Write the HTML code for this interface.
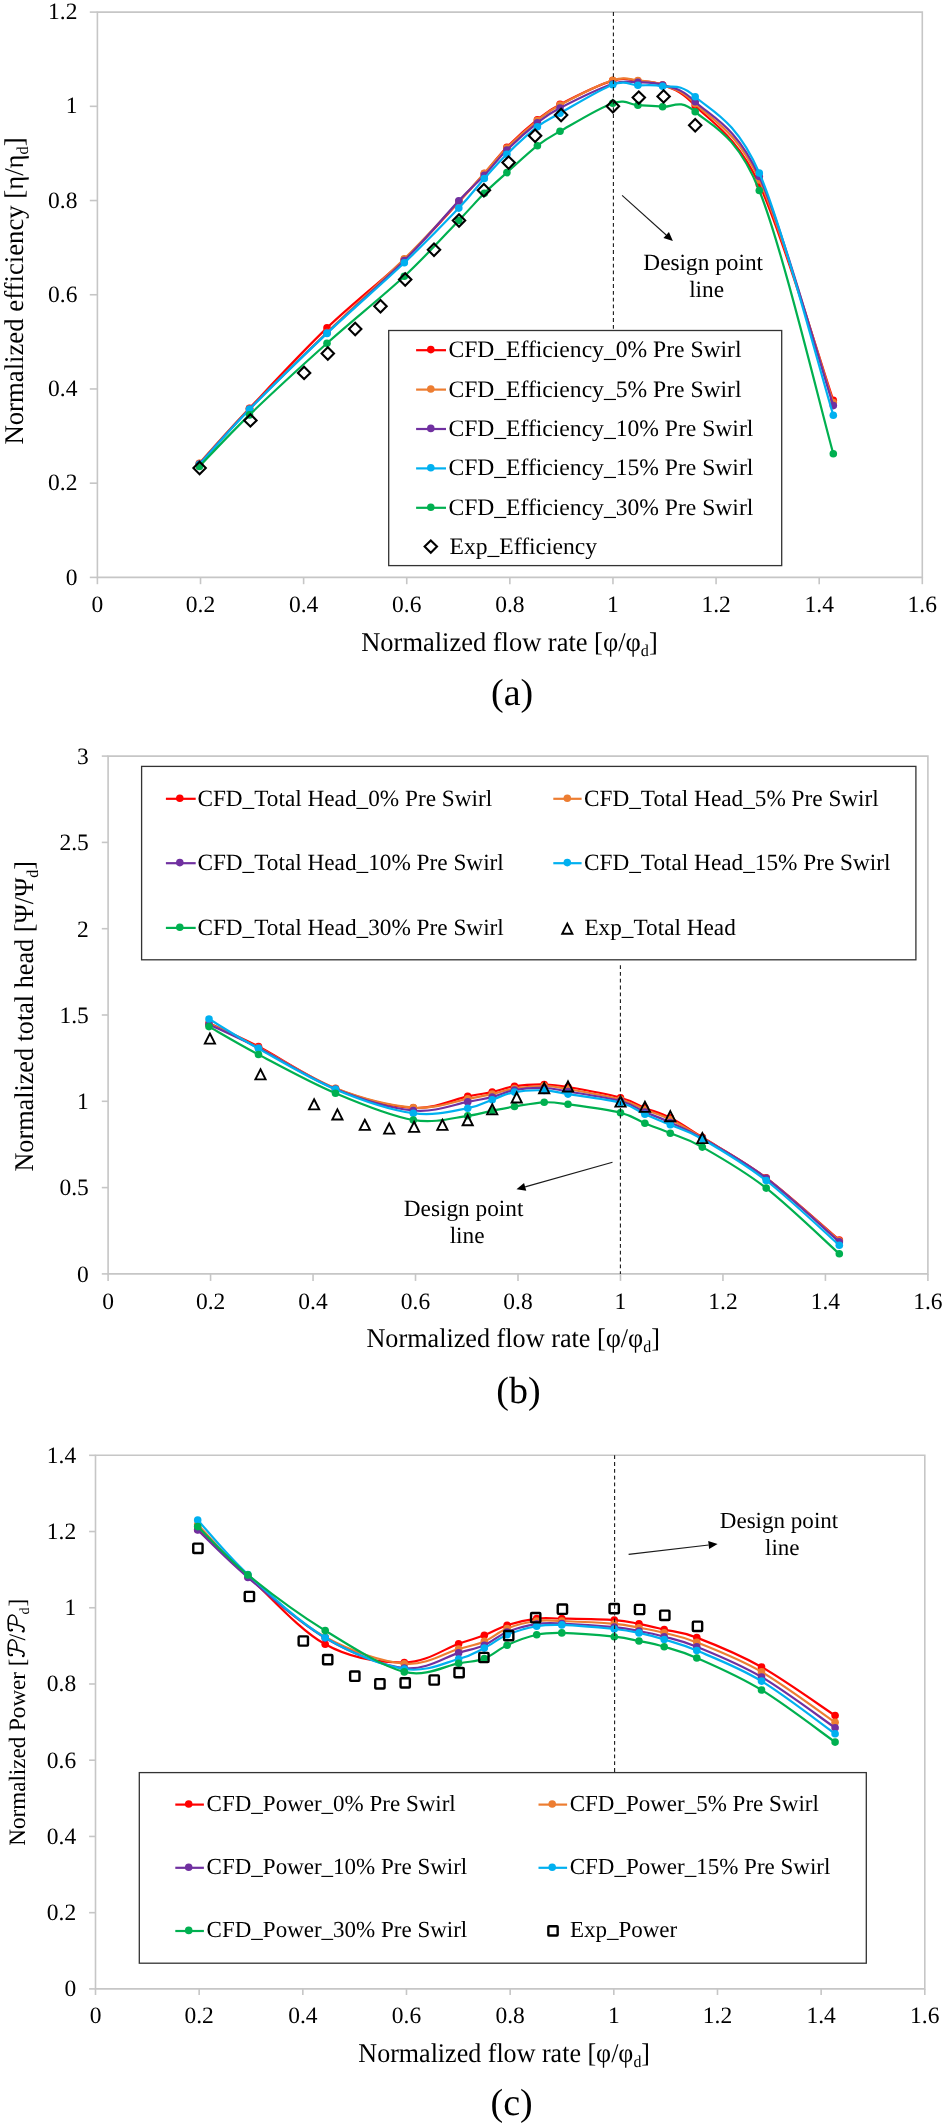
<!DOCTYPE html><html><head><meta charset="utf-8"><style>html,body{margin:0;padding:0;background:#fff;}body{width:945px;height:2127px;overflow:hidden;}svg{display:block;will-change:transform}text{text-rendering:geometricPrecision;font-family:"Liberation Serif", serif;fill:#000}</style></head><body>
<svg width="945" height="2127" viewBox="0 0 945 2127">
<rect width="945" height="2127" fill="#fff"/>
<path d="M97.4,12.1H922.3V577.4H97.4Z" fill="none" stroke="#c6c6c6" stroke-width="1.6"/>
<path d="M89.80,577.40H97.4" stroke="#c6c6c6" stroke-width="1.6"/>
<text x="77.4" y="584.50" font-size="23.5" text-anchor="end">0</text>
<path d="M89.80,483.18H97.4" stroke="#c6c6c6" stroke-width="1.6"/>
<text x="77.4" y="490.28" font-size="23.5" text-anchor="end">0.2</text>
<path d="M89.80,388.97H97.4" stroke="#c6c6c6" stroke-width="1.6"/>
<text x="77.4" y="396.07" font-size="23.5" text-anchor="end">0.4</text>
<path d="M89.80,294.75H97.4" stroke="#c6c6c6" stroke-width="1.6"/>
<text x="77.4" y="301.85" font-size="23.5" text-anchor="end">0.6</text>
<path d="M89.80,200.53H97.4" stroke="#c6c6c6" stroke-width="1.6"/>
<text x="77.4" y="207.63" font-size="23.5" text-anchor="end">0.8</text>
<path d="M89.80,106.32H97.4" stroke="#c6c6c6" stroke-width="1.6"/>
<text x="77.4" y="113.42" font-size="23.5" text-anchor="end">1</text>
<path d="M89.80,12.10H97.4" stroke="#c6c6c6" stroke-width="1.6"/>
<text x="77.4" y="19.20" font-size="23.5" text-anchor="end">1.2</text>
<path d="M97.40,577.4V584.20" stroke="#c6c6c6" stroke-width="1.6"/>
<text x="97.40" y="612.4" font-size="23.5" text-anchor="middle">0</text>
<path d="M200.51,577.4V584.20" stroke="#c6c6c6" stroke-width="1.6"/>
<text x="200.51" y="612.4" font-size="23.5" text-anchor="middle">0.2</text>
<path d="M303.62,577.4V584.20" stroke="#c6c6c6" stroke-width="1.6"/>
<text x="303.62" y="612.4" font-size="23.5" text-anchor="middle">0.4</text>
<path d="M406.74,577.4V584.20" stroke="#c6c6c6" stroke-width="1.6"/>
<text x="406.74" y="612.4" font-size="23.5" text-anchor="middle">0.6</text>
<path d="M509.85,577.4V584.20" stroke="#c6c6c6" stroke-width="1.6"/>
<text x="509.85" y="612.4" font-size="23.5" text-anchor="middle">0.8</text>
<path d="M612.96,577.4V584.20" stroke="#c6c6c6" stroke-width="1.6"/>
<text x="612.96" y="612.4" font-size="23.5" text-anchor="middle">1</text>
<path d="M716.08,577.4V584.20" stroke="#c6c6c6" stroke-width="1.6"/>
<text x="716.08" y="612.4" font-size="23.5" text-anchor="middle">1.2</text>
<path d="M819.19,577.4V584.20" stroke="#c6c6c6" stroke-width="1.6"/>
<text x="819.19" y="612.4" font-size="23.5" text-anchor="middle">1.4</text>
<path d="M922.30,577.4V584.20" stroke="#c6c6c6" stroke-width="1.6"/>
<text x="922.30" y="612.4" font-size="23.5" text-anchor="middle">1.6</text>
<path d="M108.1,756.1H927.9V1273.9H108.1Z" fill="none" stroke="#c6c6c6" stroke-width="1.6"/>
<path d="M101.80,1273.90H108.1" stroke="#c6c6c6" stroke-width="1.6"/>
<text x="88.8" y="1281.70" font-size="23.5" text-anchor="end">0</text>
<path d="M101.80,1187.60H108.1" stroke="#c6c6c6" stroke-width="1.6"/>
<text x="88.8" y="1195.40" font-size="23.5" text-anchor="end">0.5</text>
<path d="M101.80,1101.30H108.1" stroke="#c6c6c6" stroke-width="1.6"/>
<text x="88.8" y="1109.10" font-size="23.5" text-anchor="end">1</text>
<path d="M101.80,1015.00H108.1" stroke="#c6c6c6" stroke-width="1.6"/>
<text x="88.8" y="1022.80" font-size="23.5" text-anchor="end">1.5</text>
<path d="M101.80,928.70H108.1" stroke="#c6c6c6" stroke-width="1.6"/>
<text x="88.8" y="936.50" font-size="23.5" text-anchor="end">2</text>
<path d="M101.80,842.40H108.1" stroke="#c6c6c6" stroke-width="1.6"/>
<text x="88.8" y="850.20" font-size="23.5" text-anchor="end">2.5</text>
<path d="M101.80,756.10H108.1" stroke="#c6c6c6" stroke-width="1.6"/>
<text x="88.8" y="763.90" font-size="23.5" text-anchor="end">3</text>
<path d="M108.10,1273.9V1280.90" stroke="#c6c6c6" stroke-width="1.6"/>
<text x="108.10" y="1309.0" font-size="23.5" text-anchor="middle">0</text>
<path d="M210.57,1273.9V1280.90" stroke="#c6c6c6" stroke-width="1.6"/>
<text x="210.57" y="1309.0" font-size="23.5" text-anchor="middle">0.2</text>
<path d="M313.05,1273.9V1280.90" stroke="#c6c6c6" stroke-width="1.6"/>
<text x="313.05" y="1309.0" font-size="23.5" text-anchor="middle">0.4</text>
<path d="M415.52,1273.9V1280.90" stroke="#c6c6c6" stroke-width="1.6"/>
<text x="415.52" y="1309.0" font-size="23.5" text-anchor="middle">0.6</text>
<path d="M518.00,1273.9V1280.90" stroke="#c6c6c6" stroke-width="1.6"/>
<text x="518.00" y="1309.0" font-size="23.5" text-anchor="middle">0.8</text>
<path d="M620.47,1273.9V1280.90" stroke="#c6c6c6" stroke-width="1.6"/>
<text x="620.47" y="1309.0" font-size="23.5" text-anchor="middle">1</text>
<path d="M722.95,1273.9V1280.90" stroke="#c6c6c6" stroke-width="1.6"/>
<text x="722.95" y="1309.0" font-size="23.5" text-anchor="middle">1.2</text>
<path d="M825.42,1273.9V1280.90" stroke="#c6c6c6" stroke-width="1.6"/>
<text x="825.42" y="1309.0" font-size="23.5" text-anchor="middle">1.4</text>
<path d="M927.90,1273.9V1280.90" stroke="#c6c6c6" stroke-width="1.6"/>
<text x="927.90" y="1309.0" font-size="23.5" text-anchor="middle">1.6</text>
<path d="M95.5,1455.3H924.8V1988.9H95.5Z" fill="none" stroke="#c6c6c6" stroke-width="1.6"/>
<path d="M89.10,1988.90H95.5" stroke="#c6c6c6" stroke-width="1.6"/>
<text x="76.2" y="1996.30" font-size="23.5" text-anchor="end">0</text>
<path d="M89.10,1912.67H95.5" stroke="#c6c6c6" stroke-width="1.6"/>
<text x="76.2" y="1920.07" font-size="23.5" text-anchor="end">0.2</text>
<path d="M89.10,1836.44H95.5" stroke="#c6c6c6" stroke-width="1.6"/>
<text x="76.2" y="1843.84" font-size="23.5" text-anchor="end">0.4</text>
<path d="M89.10,1760.21H95.5" stroke="#c6c6c6" stroke-width="1.6"/>
<text x="76.2" y="1767.61" font-size="23.5" text-anchor="end">0.6</text>
<path d="M89.10,1683.99H95.5" stroke="#c6c6c6" stroke-width="1.6"/>
<text x="76.2" y="1691.39" font-size="23.5" text-anchor="end">0.8</text>
<path d="M89.10,1607.76H95.5" stroke="#c6c6c6" stroke-width="1.6"/>
<text x="76.2" y="1615.16" font-size="23.5" text-anchor="end">1</text>
<path d="M89.10,1531.53H95.5" stroke="#c6c6c6" stroke-width="1.6"/>
<text x="76.2" y="1538.93" font-size="23.5" text-anchor="end">1.2</text>
<path d="M89.10,1455.30H95.5" stroke="#c6c6c6" stroke-width="1.6"/>
<text x="76.2" y="1462.70" font-size="23.5" text-anchor="end">1.4</text>
<path d="M95.50,1988.9V1995.00" stroke="#c6c6c6" stroke-width="1.6"/>
<text x="95.50" y="2022.6" font-size="23.5" text-anchor="middle">0</text>
<path d="M199.16,1988.9V1995.00" stroke="#c6c6c6" stroke-width="1.6"/>
<text x="199.16" y="2022.6" font-size="23.5" text-anchor="middle">0.2</text>
<path d="M302.83,1988.9V1995.00" stroke="#c6c6c6" stroke-width="1.6"/>
<text x="302.83" y="2022.6" font-size="23.5" text-anchor="middle">0.4</text>
<path d="M406.49,1988.9V1995.00" stroke="#c6c6c6" stroke-width="1.6"/>
<text x="406.49" y="2022.6" font-size="23.5" text-anchor="middle">0.6</text>
<path d="M510.15,1988.9V1995.00" stroke="#c6c6c6" stroke-width="1.6"/>
<text x="510.15" y="2022.6" font-size="23.5" text-anchor="middle">0.8</text>
<path d="M613.81,1988.9V1995.00" stroke="#c6c6c6" stroke-width="1.6"/>
<text x="613.81" y="2022.6" font-size="23.5" text-anchor="middle">1</text>
<path d="M717.48,1988.9V1995.00" stroke="#c6c6c6" stroke-width="1.6"/>
<text x="717.48" y="2022.6" font-size="23.5" text-anchor="middle">1.2</text>
<path d="M821.14,1988.9V1995.00" stroke="#c6c6c6" stroke-width="1.6"/>
<text x="821.14" y="2022.6" font-size="23.5" text-anchor="middle">1.4</text>
<path d="M924.80,1988.9V1995.00" stroke="#c6c6c6" stroke-width="1.6"/>
<text x="924.80" y="2022.6" font-size="23.5" text-anchor="middle">1.6</text>
<g transform="translate(361.23,651.20) scale(0.98,1)"><text x="0" y="0" font-size="27">Normalized flow rate [φ/φ<tspan font-size="16.5" dy="4.8">d</tspan><tspan dy="-4.8">]</tspan></text></g>
<g transform="translate(366.44,1347.30) scale(0.97,1)"><text x="0" y="0" font-size="27">Normalized flow rate [φ/φ<tspan font-size="16.5" dy="4.8">d</tspan><tspan dy="-4.8">]</tspan></text></g>
<g transform="translate(358.35,2062.30) scale(0.964,1)"><text x="0" y="0" font-size="27">Normalized flow rate [φ/φ<tspan font-size="16.5" dy="4.8">d</tspan><tspan dy="-4.8">]</tspan></text></g>
<g transform="translate(23.00,444.58) rotate(-90) scale(0.99,1)"><text x="0" y="0" font-size="27">Normalized efficiency [η/η<tspan font-size="16.5" dy="4.8">d</tspan><tspan dy="-4.8">]</tspan></text></g>
<g transform="translate(33.00,1171.58) rotate(-90) scale(0.97,1)"><text x="0" y="0" font-size="27">Normalized total head [Ψ/Ψ<tspan font-size="16.5" dy="4.8">d</tspan><tspan dy="-4.8">]</tspan></text></g>
<g transform="translate(24.5,1845.68) rotate(-90) scale(0.982,1)"><text x="0" y="0" font-size="23.5" id="yc1">Normalized Power [</text></g>
<g transform="translate(24.5,1657.1) rotate(-90)"><path d="M2.3,-12.6C1.0,-13.6 1.6,-16.0 4.2,-16.1C6.5,-16.2 8.0,-16.2 9.5,-16.3C13.5,-16.6 17.5,-15.5 17.3,-12.2C17.1,-9.0 13.0,-7.4 8.6,-7.6M9.0,-16.2C8.2,-11.5 6.8,-5.0 5.5,-2.2C4.6,-0.2 2.2,0.2 1.0,-1.3" fill="none" stroke="#000" stroke-width="1.6" stroke-linecap="round"/><circle cx="2.2" cy="-12.7" r="1.25"/><circle cx="1.1" cy="-1.4" r="1.25"/></g>
<g transform="translate(24.5,1632.3) rotate(-90)"><path d="M2.3,-12.6C1.0,-13.6 1.6,-16.0 4.2,-16.1C6.5,-16.2 8.0,-16.2 9.5,-16.3C13.5,-16.6 17.5,-15.5 17.3,-12.2C17.1,-9.0 13.0,-7.4 8.6,-7.6M9.0,-16.2C8.2,-11.5 6.8,-5.0 5.5,-2.2C4.6,-0.2 2.2,0.2 1.0,-1.3" fill="none" stroke="#000" stroke-width="1.6" stroke-linecap="round"/><circle cx="2.2" cy="-12.7" r="1.25"/><circle cx="1.1" cy="-1.4" r="1.25"/></g>
<g transform="translate(24.5,1640.5) rotate(-90)"><text x="0" y="0" font-size="23.5">/</text></g>
<g transform="translate(29.3,1614.6) rotate(-90)"><text x="0" y="0" font-size="14">d</text></g>
<g transform="translate(24.5,1606.4) rotate(-90)"><text x="0" y="0" font-size="23.5">]</text></g>
<text x="512.20" y="705.30" font-size="38" text-anchor="middle" >(a)</text>
<text x="518.50" y="1402.50" font-size="38" text-anchor="middle" >(b)</text>
<text x="511.60" y="2115.30" font-size="38" text-anchor="middle" >(c)</text>
<text x="703.20" y="269.60" font-size="23.3" text-anchor="middle" >Design point</text>
<text x="706.60" y="296.90" font-size="23.3" text-anchor="middle" >line</text>
<text x="463.60" y="1216.30" font-size="23.3" text-anchor="middle" >Design point</text>
<text x="467.10" y="1243.30" font-size="23.3" text-anchor="middle" >line</text>
<text x="779.00" y="1528.20" font-size="23.05" text-anchor="middle" >Design point</text>
<text x="782.30" y="1555.00" font-size="23.05" text-anchor="middle" >line</text>
<path d="M622.10,195.40L666.20,234.99" stroke="#1a1a1a" stroke-width="1.1" fill="none"/>
<path d="M672.90,241.00L663.46,238.04L668.94,231.94Z" fill="#000"/>
<path d="M612.50,1162.20L525.16,1186.85" stroke="#1a1a1a" stroke-width="1.1" fill="none"/>
<path d="M516.50,1189.30L524.05,1182.91L526.28,1190.80Z" fill="#000"/>
<path d="M628.60,1554.40L708.66,1545.04" stroke="#1a1a1a" stroke-width="1.1" fill="none"/>
<path d="M717.60,1544.00L709.14,1549.12L708.18,1540.97Z" fill="#000"/>
<path d="M199.40,463.50C207.75,454.30 228.23,430.90 249.50,408.30C270.77,385.70 301.20,352.70 327.00,327.90C352.80,303.10 382.33,280.48 404.30,259.50C426.27,238.52 445.47,216.33 458.80,202.00C472.13,187.67 476.28,182.63 484.30,173.50C492.32,164.37 498.05,156.17 506.90,147.20C515.75,138.23 528.55,126.83 537.40,119.70C546.25,112.57 547.45,110.92 560.00,104.40C572.55,97.88 599.72,84.50 612.70,80.60C625.68,76.70 629.58,80.27 637.90,81.00C646.22,81.73 653.05,80.88 662.60,85.00C672.15,89.12 679.08,89.13 695.20,105.70C711.32,122.27 736.28,135.28 759.30,184.40C782.32,233.52 820.97,364.40 833.30,400.40" fill="none" stroke="#ff0000" stroke-width="2.2" stroke-linejoin="round"/>
<circle cx="199.40" cy="463.50" r="3.8" fill="#ff0000"/><circle cx="249.50" cy="408.30" r="3.8" fill="#ff0000"/><circle cx="327.00" cy="327.90" r="3.8" fill="#ff0000"/><circle cx="404.30" cy="259.50" r="3.8" fill="#ff0000"/><circle cx="458.80" cy="202.00" r="3.8" fill="#ff0000"/><circle cx="484.30" cy="173.50" r="3.8" fill="#ff0000"/><circle cx="506.90" cy="147.20" r="3.8" fill="#ff0000"/><circle cx="537.40" cy="119.70" r="3.8" fill="#ff0000"/><circle cx="560.00" cy="104.40" r="3.8" fill="#ff0000"/><circle cx="612.70" cy="80.60" r="3.8" fill="#ff0000"/><circle cx="637.90" cy="81.00" r="3.8" fill="#ff0000"/><circle cx="662.60" cy="85.00" r="3.8" fill="#ff0000"/><circle cx="695.20" cy="105.70" r="3.8" fill="#ff0000"/><circle cx="759.30" cy="184.40" r="3.8" fill="#ff0000"/><circle cx="833.30" cy="400.40" r="3.8" fill="#ff0000"/>
<path d="M199.40,463.20C207.75,454.08 228.23,430.28 249.50,408.50C270.77,386.72 301.20,357.45 327.00,332.50C352.80,307.55 382.33,280.63 404.30,258.80C426.27,236.97 445.47,215.77 458.80,201.50C472.13,187.23 476.28,182.12 484.30,173.20C492.32,164.28 498.05,156.78 506.90,148.00C515.75,139.22 528.55,127.67 537.40,120.50C546.25,113.33 547.45,111.72 560.00,105.00C572.55,98.28 599.72,84.28 612.70,80.20C625.68,76.12 629.58,79.70 637.90,80.50C646.22,81.30 653.05,81.15 662.60,85.00C672.15,88.85 679.08,87.78 695.20,103.60C711.32,119.42 736.28,130.08 759.30,179.90C782.32,229.72 820.97,365.40 833.30,402.50" fill="none" stroke="#ed7d31" stroke-width="2.2" stroke-linejoin="round"/>
<circle cx="199.40" cy="463.20" r="3.8" fill="#ed7d31"/><circle cx="249.50" cy="408.50" r="3.8" fill="#ed7d31"/><circle cx="327.00" cy="332.50" r="3.8" fill="#ed7d31"/><circle cx="404.30" cy="258.80" r="3.8" fill="#ed7d31"/><circle cx="458.80" cy="201.50" r="3.8" fill="#ed7d31"/><circle cx="484.30" cy="173.20" r="3.8" fill="#ed7d31"/><circle cx="506.90" cy="148.00" r="3.8" fill="#ed7d31"/><circle cx="537.40" cy="120.50" r="3.8" fill="#ed7d31"/><circle cx="560.00" cy="105.00" r="3.8" fill="#ed7d31"/><circle cx="612.70" cy="80.20" r="3.8" fill="#ed7d31"/><circle cx="637.90" cy="80.50" r="3.8" fill="#ed7d31"/><circle cx="662.60" cy="85.00" r="3.8" fill="#ed7d31"/><circle cx="695.20" cy="103.60" r="3.8" fill="#ed7d31"/><circle cx="759.30" cy="179.90" r="3.8" fill="#ed7d31"/><circle cx="833.30" cy="402.50" r="3.8" fill="#ed7d31"/>
<path d="M199.40,464.00C207.75,454.83 228.23,430.83 249.50,409.00C270.77,387.17 301.20,357.73 327.00,333.00C352.80,308.27 382.33,282.65 404.30,260.60C426.27,238.55 445.47,214.92 458.80,200.70C472.13,186.48 476.28,183.75 484.30,175.30C492.32,166.85 498.05,158.73 506.90,150.00C515.75,141.27 528.55,129.90 537.40,122.90C546.25,115.90 547.45,114.48 560.00,108.00C572.55,101.52 599.72,88.27 612.70,84.00C625.68,79.73 629.58,82.23 637.90,82.40C646.22,82.57 653.05,81.78 662.60,85.00C672.15,88.22 679.08,86.45 695.20,101.70C711.32,116.95 736.28,125.85 759.30,176.50C782.32,227.15 820.97,367.42 833.30,405.60" fill="none" stroke="#7030a0" stroke-width="2.2" stroke-linejoin="round"/>
<circle cx="199.40" cy="464.00" r="3.8" fill="#7030a0"/><circle cx="249.50" cy="409.00" r="3.8" fill="#7030a0"/><circle cx="327.00" cy="333.00" r="3.8" fill="#7030a0"/><circle cx="404.30" cy="260.60" r="3.8" fill="#7030a0"/><circle cx="458.80" cy="200.70" r="3.8" fill="#7030a0"/><circle cx="484.30" cy="175.30" r="3.8" fill="#7030a0"/><circle cx="506.90" cy="150.00" r="3.8" fill="#7030a0"/><circle cx="537.40" cy="122.90" r="3.8" fill="#7030a0"/><circle cx="560.00" cy="108.00" r="3.8" fill="#7030a0"/><circle cx="612.70" cy="84.00" r="3.8" fill="#7030a0"/><circle cx="637.90" cy="82.40" r="3.8" fill="#7030a0"/><circle cx="662.60" cy="85.00" r="3.8" fill="#7030a0"/><circle cx="695.20" cy="101.70" r="3.8" fill="#7030a0"/><circle cx="759.30" cy="176.50" r="3.8" fill="#7030a0"/><circle cx="833.30" cy="405.60" r="3.8" fill="#7030a0"/>
<path d="M199.40,464.50C207.75,455.32 228.23,431.25 249.50,409.40C270.77,387.55 301.20,357.83 327.00,333.40C352.80,308.97 382.33,283.68 404.30,262.80C426.27,241.92 445.47,222.15 458.80,208.10C472.13,194.05 476.28,187.48 484.30,178.50C492.32,169.52 498.05,162.83 506.90,154.20C515.75,145.57 528.55,133.52 537.40,126.70C546.25,119.88 547.45,120.30 560.00,113.30C572.55,106.30 599.72,89.37 612.70,84.70C625.68,80.03 629.58,85.03 637.90,85.30C646.22,85.57 653.05,84.40 662.60,86.30C672.15,88.20 679.08,82.25 695.20,96.70C711.32,111.15 736.28,119.92 759.30,173.00C782.32,226.08 820.97,374.83 833.30,415.20" fill="none" stroke="#00b0f0" stroke-width="2.2" stroke-linejoin="round"/>
<circle cx="199.40" cy="464.50" r="3.8" fill="#00b0f0"/><circle cx="249.50" cy="409.40" r="3.8" fill="#00b0f0"/><circle cx="327.00" cy="333.40" r="3.8" fill="#00b0f0"/><circle cx="404.30" cy="262.80" r="3.8" fill="#00b0f0"/><circle cx="458.80" cy="208.10" r="3.8" fill="#00b0f0"/><circle cx="484.30" cy="178.50" r="3.8" fill="#00b0f0"/><circle cx="506.90" cy="154.20" r="3.8" fill="#00b0f0"/><circle cx="537.40" cy="126.70" r="3.8" fill="#00b0f0"/><circle cx="560.00" cy="113.30" r="3.8" fill="#00b0f0"/><circle cx="612.70" cy="84.70" r="3.8" fill="#00b0f0"/><circle cx="637.90" cy="85.30" r="3.8" fill="#00b0f0"/><circle cx="662.60" cy="86.30" r="3.8" fill="#00b0f0"/><circle cx="695.20" cy="96.70" r="3.8" fill="#00b0f0"/><circle cx="759.30" cy="173.00" r="3.8" fill="#00b0f0"/><circle cx="833.30" cy="415.20" r="3.8" fill="#00b0f0"/>
<path d="M199.40,466.50C207.75,457.90 228.23,435.43 249.50,414.90C270.77,394.37 301.20,366.40 327.00,343.30C352.80,320.20 382.33,296.78 404.30,276.30C426.27,255.82 445.47,234.23 458.80,220.40C472.13,206.57 476.28,201.27 484.30,193.30C492.32,185.33 498.05,180.53 506.90,172.60C515.75,164.67 528.55,152.58 537.40,145.70C546.25,138.82 547.45,138.38 560.00,131.30C572.55,124.22 599.72,107.55 612.70,103.20C625.68,98.85 629.58,104.62 637.90,105.20C646.22,105.78 653.05,105.60 662.60,106.70C672.15,107.80 679.08,97.83 695.20,111.80C711.32,125.77 736.28,133.52 759.30,190.50C782.32,247.48 820.97,409.83 833.30,453.70" fill="none" stroke="#00b050" stroke-width="2.2" stroke-linejoin="round"/>
<circle cx="199.40" cy="466.50" r="3.8" fill="#00b050"/><circle cx="249.50" cy="414.90" r="3.8" fill="#00b050"/><circle cx="327.00" cy="343.30" r="3.8" fill="#00b050"/><circle cx="404.30" cy="276.30" r="3.8" fill="#00b050"/><circle cx="458.80" cy="220.40" r="3.8" fill="#00b050"/><circle cx="484.30" cy="193.30" r="3.8" fill="#00b050"/><circle cx="506.90" cy="172.60" r="3.8" fill="#00b050"/><circle cx="537.40" cy="145.70" r="3.8" fill="#00b050"/><circle cx="560.00" cy="131.30" r="3.8" fill="#00b050"/><circle cx="612.70" cy="103.20" r="3.8" fill="#00b050"/><circle cx="637.90" cy="105.20" r="3.8" fill="#00b050"/><circle cx="662.60" cy="106.70" r="3.8" fill="#00b050"/><circle cx="695.20" cy="111.80" r="3.8" fill="#00b050"/><circle cx="759.30" cy="190.50" r="3.8" fill="#00b050"/><circle cx="833.30" cy="453.70" r="3.8" fill="#00b050"/>
<path d="M199.60,461.80L205.80,468.00L199.60,474.20L193.40,468.00Z" fill="none" stroke="#000" stroke-width="2.1"/>
<path d="M250.40,414.20L256.60,420.40L250.40,426.60L244.20,420.40Z" fill="none" stroke="#000" stroke-width="2.1"/>
<path d="M304.10,366.70L310.30,372.90L304.10,379.10L297.90,372.90Z" fill="none" stroke="#000" stroke-width="2.1"/>
<path d="M327.80,347.30L334.00,353.50L327.80,359.70L321.60,353.50Z" fill="none" stroke="#000" stroke-width="2.1"/>
<path d="M355.20,322.80L361.40,329.00L355.20,335.20L349.00,329.00Z" fill="none" stroke="#000" stroke-width="2.1"/>
<path d="M380.50,300.00L386.70,306.20L380.50,312.40L374.30,306.20Z" fill="none" stroke="#000" stroke-width="2.1"/>
<path d="M405.20,273.30L411.40,279.50L405.20,285.70L399.00,279.50Z" fill="none" stroke="#000" stroke-width="2.1"/>
<path d="M434.00,243.60L440.20,249.80L434.00,256.00L427.80,249.80Z" fill="none" stroke="#000" stroke-width="2.1"/>
<path d="M459.00,214.30L465.20,220.50L459.00,226.70L452.80,220.50Z" fill="none" stroke="#000" stroke-width="2.1"/>
<path d="M483.90,184.00L490.10,190.20L483.90,196.40L477.70,190.20Z" fill="none" stroke="#000" stroke-width="2.1"/>
<path d="M508.60,156.40L514.80,162.60L508.60,168.80L502.40,162.60Z" fill="none" stroke="#000" stroke-width="2.1"/>
<path d="M535.10,129.60L541.30,135.80L535.10,142.00L528.90,135.80Z" fill="none" stroke="#000" stroke-width="2.1"/>
<path d="M561.10,108.80L567.30,115.00L561.10,121.20L554.90,115.00Z" fill="none" stroke="#000" stroke-width="2.1"/>
<path d="M612.90,100.10L619.10,106.30L612.90,112.50L606.70,106.30Z" fill="none" stroke="#000" stroke-width="2.1"/>
<path d="M638.80,91.40L645.00,97.60L638.80,103.80L632.60,97.60Z" fill="none" stroke="#000" stroke-width="2.1"/>
<path d="M663.60,90.20L669.80,96.40L663.60,102.60L657.40,96.40Z" fill="none" stroke="#000" stroke-width="2.1"/>
<path d="M695.20,119.10L701.40,125.30L695.20,131.50L689.00,125.30Z" fill="none" stroke="#000" stroke-width="2.1"/>
<path d="M209.00,1023.20C217.25,1027.08 237.42,1035.62 258.50,1046.50C279.58,1057.38 309.70,1078.27 335.50,1088.50C361.30,1098.73 391.27,1106.60 413.30,1107.90C435.33,1109.20 454.55,1098.93 467.70,1096.30C480.85,1093.67 484.40,1093.78 492.20,1092.10C500.00,1090.42 505.83,1087.47 514.50,1086.20C523.17,1084.93 535.28,1084.37 544.20,1084.50C553.12,1084.63 555.28,1084.80 568.00,1087.00C580.72,1089.20 607.68,1094.22 620.50,1097.70C633.32,1101.18 636.60,1104.55 644.90,1107.90C653.20,1111.25 660.73,1112.90 670.30,1117.80C679.87,1122.70 686.32,1127.30 702.30,1137.30C718.28,1147.30 743.37,1160.68 766.20,1177.80C789.03,1194.92 827.12,1229.63 839.30,1240.00" fill="none" stroke="#ff0000" stroke-width="2.2" stroke-linejoin="round"/>
<circle cx="209.00" cy="1023.20" r="3.8" fill="#ff0000"/><circle cx="258.50" cy="1046.50" r="3.8" fill="#ff0000"/><circle cx="335.50" cy="1088.50" r="3.8" fill="#ff0000"/><circle cx="413.30" cy="1107.90" r="3.8" fill="#ff0000"/><circle cx="467.70" cy="1096.30" r="3.8" fill="#ff0000"/><circle cx="492.20" cy="1092.10" r="3.8" fill="#ff0000"/><circle cx="514.50" cy="1086.20" r="3.8" fill="#ff0000"/><circle cx="544.20" cy="1084.50" r="3.8" fill="#ff0000"/><circle cx="568.00" cy="1087.00" r="3.8" fill="#ff0000"/><circle cx="620.50" cy="1097.70" r="3.8" fill="#ff0000"/><circle cx="644.90" cy="1107.90" r="3.8" fill="#ff0000"/><circle cx="670.30" cy="1117.80" r="3.8" fill="#ff0000"/><circle cx="702.30" cy="1137.30" r="3.8" fill="#ff0000"/><circle cx="766.20" cy="1177.80" r="3.8" fill="#ff0000"/><circle cx="839.30" cy="1240.00" r="3.8" fill="#ff0000"/>
<path d="M209.00,1023.50C217.25,1027.50 237.42,1036.70 258.50,1047.50C279.58,1058.30 309.70,1078.28 335.50,1088.30C361.30,1098.32 391.27,1105.83 413.30,1107.60C435.33,1109.37 454.55,1101.17 467.70,1098.90C480.85,1096.63 484.40,1095.73 492.20,1094.00C500.00,1092.27 505.83,1089.83 514.50,1088.50C523.17,1087.17 535.28,1085.92 544.20,1086.00C553.12,1086.08 555.28,1086.75 568.00,1089.00C580.72,1091.25 607.68,1096.08 620.50,1099.50C633.32,1102.92 636.60,1106.17 644.90,1109.50C653.20,1112.83 660.73,1114.78 670.30,1119.50C679.87,1124.22 686.32,1128.02 702.30,1137.80C718.28,1147.58 743.37,1161.03 766.20,1178.20C789.03,1195.37 827.12,1230.37 839.30,1240.80" fill="none" stroke="#ed7d31" stroke-width="2.2" stroke-linejoin="round"/>
<circle cx="209.00" cy="1023.50" r="3.8" fill="#ed7d31"/><circle cx="258.50" cy="1047.50" r="3.8" fill="#ed7d31"/><circle cx="335.50" cy="1088.30" r="3.8" fill="#ed7d31"/><circle cx="413.30" cy="1107.60" r="3.8" fill="#ed7d31"/><circle cx="467.70" cy="1098.90" r="3.8" fill="#ed7d31"/><circle cx="492.20" cy="1094.00" r="3.8" fill="#ed7d31"/><circle cx="514.50" cy="1088.50" r="3.8" fill="#ed7d31"/><circle cx="544.20" cy="1086.00" r="3.8" fill="#ed7d31"/><circle cx="568.00" cy="1089.00" r="3.8" fill="#ed7d31"/><circle cx="620.50" cy="1099.50" r="3.8" fill="#ed7d31"/><circle cx="644.90" cy="1109.50" r="3.8" fill="#ed7d31"/><circle cx="670.30" cy="1119.50" r="3.8" fill="#ed7d31"/><circle cx="702.30" cy="1137.80" r="3.8" fill="#ed7d31"/><circle cx="766.20" cy="1178.20" r="3.8" fill="#ed7d31"/><circle cx="839.30" cy="1240.80" r="3.8" fill="#ed7d31"/>
<path d="M209.00,1024.50C217.25,1028.42 237.42,1037.25 258.50,1048.00C279.58,1058.75 309.70,1078.58 335.50,1089.00C361.30,1099.42 391.27,1108.35 413.30,1110.50C435.33,1112.65 454.55,1104.15 467.70,1101.90C480.85,1099.65 484.40,1098.98 492.20,1097.00C500.00,1095.02 505.83,1091.50 514.50,1090.00C523.17,1088.50 535.28,1087.75 544.20,1088.00C553.12,1088.25 555.28,1089.33 568.00,1091.50C580.72,1093.67 607.68,1097.58 620.50,1101.00C633.32,1104.42 636.60,1108.42 644.90,1112.00C653.20,1115.58 660.73,1118.12 670.30,1122.50C679.87,1126.88 686.32,1129.02 702.30,1138.30C718.28,1147.58 743.37,1160.93 766.20,1178.20C789.03,1195.47 827.12,1231.28 839.30,1241.90" fill="none" stroke="#7030a0" stroke-width="2.2" stroke-linejoin="round"/>
<circle cx="209.00" cy="1024.50" r="3.8" fill="#7030a0"/><circle cx="258.50" cy="1048.00" r="3.8" fill="#7030a0"/><circle cx="335.50" cy="1089.00" r="3.8" fill="#7030a0"/><circle cx="413.30" cy="1110.50" r="3.8" fill="#7030a0"/><circle cx="467.70" cy="1101.90" r="3.8" fill="#7030a0"/><circle cx="492.20" cy="1097.00" r="3.8" fill="#7030a0"/><circle cx="514.50" cy="1090.00" r="3.8" fill="#7030a0"/><circle cx="544.20" cy="1088.00" r="3.8" fill="#7030a0"/><circle cx="568.00" cy="1091.50" r="3.8" fill="#7030a0"/><circle cx="620.50" cy="1101.00" r="3.8" fill="#7030a0"/><circle cx="644.90" cy="1112.00" r="3.8" fill="#7030a0"/><circle cx="670.30" cy="1122.50" r="3.8" fill="#7030a0"/><circle cx="702.30" cy="1138.30" r="3.8" fill="#7030a0"/><circle cx="766.20" cy="1178.20" r="3.8" fill="#7030a0"/><circle cx="839.30" cy="1241.90" r="3.8" fill="#7030a0"/>
<path d="M209.00,1019.00C217.25,1023.93 237.42,1036.87 258.50,1048.60C279.58,1060.33 309.70,1078.63 335.50,1089.40C361.30,1100.17 391.27,1110.07 413.30,1113.20C435.33,1116.33 454.55,1110.45 467.70,1108.20C480.85,1105.95 484.40,1102.38 492.20,1099.70C500.00,1097.02 505.83,1093.65 514.50,1092.10C523.17,1090.55 535.28,1090.07 544.20,1090.40C553.12,1090.73 555.28,1092.05 568.00,1094.10C580.72,1096.15 607.68,1099.33 620.50,1102.70C633.32,1106.07 636.60,1110.62 644.90,1114.30C653.20,1117.98 660.73,1120.68 670.30,1124.80C679.87,1128.92 686.32,1129.72 702.30,1139.00C718.28,1148.28 743.37,1162.78 766.20,1180.50C789.03,1198.22 827.12,1234.50 839.30,1245.30" fill="none" stroke="#00b0f0" stroke-width="2.2" stroke-linejoin="round"/>
<circle cx="209.00" cy="1019.00" r="3.8" fill="#00b0f0"/><circle cx="258.50" cy="1048.60" r="3.8" fill="#00b0f0"/><circle cx="335.50" cy="1089.40" r="3.8" fill="#00b0f0"/><circle cx="413.30" cy="1113.20" r="3.8" fill="#00b0f0"/><circle cx="467.70" cy="1108.20" r="3.8" fill="#00b0f0"/><circle cx="492.20" cy="1099.70" r="3.8" fill="#00b0f0"/><circle cx="514.50" cy="1092.10" r="3.8" fill="#00b0f0"/><circle cx="544.20" cy="1090.40" r="3.8" fill="#00b0f0"/><circle cx="568.00" cy="1094.10" r="3.8" fill="#00b0f0"/><circle cx="620.50" cy="1102.70" r="3.8" fill="#00b0f0"/><circle cx="644.90" cy="1114.30" r="3.8" fill="#00b0f0"/><circle cx="670.30" cy="1124.80" r="3.8" fill="#00b0f0"/><circle cx="702.30" cy="1139.00" r="3.8" fill="#00b0f0"/><circle cx="766.20" cy="1180.50" r="3.8" fill="#00b0f0"/><circle cx="839.30" cy="1245.30" r="3.8" fill="#00b0f0"/>
<path d="M209.00,1026.60C217.25,1031.25 237.42,1043.40 258.50,1054.50C279.58,1065.60 309.70,1082.28 335.50,1093.20C361.30,1104.12 391.27,1116.23 413.30,1120.00C435.33,1123.77 454.55,1117.35 467.70,1115.80C480.85,1114.25 484.40,1112.25 492.20,1110.70C500.00,1109.15 505.83,1107.90 514.50,1106.50C523.17,1105.10 535.28,1102.67 544.20,1102.30C553.12,1101.93 555.28,1102.55 568.00,1104.30C580.72,1106.05 607.68,1109.63 620.50,1112.80C633.32,1115.97 636.60,1119.88 644.90,1123.30C653.20,1126.72 660.73,1129.33 670.30,1133.30C679.87,1137.27 686.32,1137.97 702.30,1147.10C718.28,1156.23 743.37,1170.32 766.20,1188.10C789.03,1205.88 827.12,1242.85 839.30,1253.80" fill="none" stroke="#00b050" stroke-width="2.2" stroke-linejoin="round"/>
<circle cx="209.00" cy="1026.60" r="3.8" fill="#00b050"/><circle cx="258.50" cy="1054.50" r="3.8" fill="#00b050"/><circle cx="335.50" cy="1093.20" r="3.8" fill="#00b050"/><circle cx="413.30" cy="1120.00" r="3.8" fill="#00b050"/><circle cx="467.70" cy="1115.80" r="3.8" fill="#00b050"/><circle cx="492.20" cy="1110.70" r="3.8" fill="#00b050"/><circle cx="514.50" cy="1106.50" r="3.8" fill="#00b050"/><circle cx="544.20" cy="1102.30" r="3.8" fill="#00b050"/><circle cx="568.00" cy="1104.30" r="3.8" fill="#00b050"/><circle cx="620.50" cy="1112.80" r="3.8" fill="#00b050"/><circle cx="644.90" cy="1123.30" r="3.8" fill="#00b050"/><circle cx="670.30" cy="1133.30" r="3.8" fill="#00b050"/><circle cx="702.30" cy="1147.10" r="3.8" fill="#00b050"/><circle cx="766.20" cy="1188.10" r="3.8" fill="#00b050"/><circle cx="839.30" cy="1253.80" r="3.8" fill="#00b050"/>
<path d="M209.90,1033.50L215.00,1043.60L204.80,1043.60Z" fill="none" stroke="#000" stroke-width="1.9"/>
<path d="M260.50,1069.30L265.60,1079.40L255.40,1079.40Z" fill="none" stroke="#000" stroke-width="1.9"/>
<path d="M314.10,1099.30L319.20,1109.40L309.00,1109.40Z" fill="none" stroke="#000" stroke-width="1.9"/>
<path d="M337.40,1109.40L342.50,1119.50L332.30,1119.50Z" fill="none" stroke="#000" stroke-width="1.9"/>
<path d="M364.80,1119.80L369.90,1129.90L359.70,1129.90Z" fill="none" stroke="#000" stroke-width="1.9"/>
<path d="M389.20,1123.50L394.30,1133.60L384.10,1133.60Z" fill="none" stroke="#000" stroke-width="1.9"/>
<path d="M414.10,1121.80L419.20,1131.90L409.00,1131.90Z" fill="none" stroke="#000" stroke-width="1.9"/>
<path d="M442.40,1119.80L447.50,1129.90L437.30,1129.90Z" fill="none" stroke="#000" stroke-width="1.9"/>
<path d="M467.70,1115.20L472.80,1125.30L462.60,1125.30Z" fill="none" stroke="#000" stroke-width="1.9"/>
<path d="M492.20,1104.30L497.30,1114.40L487.10,1114.40Z" fill="none" stroke="#000" stroke-width="1.9"/>
<path d="M516.70,1092.40L521.80,1102.50L511.60,1102.50Z" fill="none" stroke="#000" stroke-width="1.9"/>
<path d="M544.20,1083.10L549.30,1093.20L539.10,1093.20Z" fill="none" stroke="#000" stroke-width="1.9"/>
<path d="M568.00,1081.40L573.10,1091.50L562.90,1091.50Z" fill="none" stroke="#000" stroke-width="1.9"/>
<path d="M620.50,1096.50L625.60,1106.60L615.40,1106.60Z" fill="none" stroke="#000" stroke-width="1.9"/>
<path d="M644.90,1101.80L650.00,1111.90L639.80,1111.90Z" fill="none" stroke="#000" stroke-width="1.9"/>
<path d="M670.30,1111.10L675.40,1121.20L665.20,1121.20Z" fill="none" stroke="#000" stroke-width="1.9"/>
<path d="M702.30,1133.00L707.40,1143.10L697.20,1143.10Z" fill="none" stroke="#000" stroke-width="1.9"/>
<path d="M197.70,1529.50C206.07,1537.25 226.65,1556.87 247.90,1576.00C269.15,1595.13 299.13,1629.88 325.20,1644.30C351.27,1658.72 382.07,1662.60 404.30,1662.50C426.53,1662.40 445.27,1648.23 458.60,1643.70C471.93,1639.17 476.22,1638.38 484.30,1635.30C492.38,1632.22 498.37,1627.98 507.10,1625.20C515.83,1622.42 527.58,1619.70 536.70,1618.60C545.82,1617.50 548.87,1618.35 561.80,1618.60C574.73,1618.85 601.43,1619.22 614.30,1620.10C627.17,1620.98 630.68,1622.32 639.00,1623.90C647.32,1625.48 654.57,1627.32 664.20,1629.60C673.83,1631.88 680.58,1631.37 696.80,1637.60C713.02,1643.83 738.45,1654.00 761.50,1667.00C784.55,1680.00 822.83,1707.50 835.10,1715.60" fill="none" stroke="#ff0000" stroke-width="2.2" stroke-linejoin="round"/>
<circle cx="197.70" cy="1529.50" r="3.8" fill="#ff0000"/><circle cx="247.90" cy="1576.00" r="3.8" fill="#ff0000"/><circle cx="325.20" cy="1644.30" r="3.8" fill="#ff0000"/><circle cx="404.30" cy="1662.50" r="3.8" fill="#ff0000"/><circle cx="458.60" cy="1643.70" r="3.8" fill="#ff0000"/><circle cx="484.30" cy="1635.30" r="3.8" fill="#ff0000"/><circle cx="507.10" cy="1625.20" r="3.8" fill="#ff0000"/><circle cx="536.70" cy="1618.60" r="3.8" fill="#ff0000"/><circle cx="561.80" cy="1618.60" r="3.8" fill="#ff0000"/><circle cx="614.30" cy="1620.10" r="3.8" fill="#ff0000"/><circle cx="639.00" cy="1623.90" r="3.8" fill="#ff0000"/><circle cx="664.20" cy="1629.60" r="3.8" fill="#ff0000"/><circle cx="696.80" cy="1637.60" r="3.8" fill="#ff0000"/><circle cx="761.50" cy="1667.00" r="3.8" fill="#ff0000"/><circle cx="835.10" cy="1715.60" r="3.8" fill="#ff0000"/>
<path d="M197.70,1524.50C206.07,1533.17 226.65,1557.75 247.90,1576.50C269.15,1595.25 299.13,1622.47 325.20,1637.00C351.27,1651.53 382.07,1661.70 404.30,1663.70C426.53,1665.70 445.27,1652.72 458.60,1649.00C471.93,1645.28 476.22,1644.82 484.30,1641.40C492.38,1637.98 498.37,1631.90 507.10,1628.50C515.83,1625.10 527.58,1622.25 536.70,1621.00C545.82,1619.75 548.87,1620.52 561.80,1621.00C574.73,1621.48 601.43,1622.78 614.30,1623.90C627.17,1625.02 630.68,1626.20 639.00,1627.70C647.32,1629.20 654.57,1630.45 664.20,1632.90C673.83,1635.35 680.58,1635.90 696.80,1642.40C713.02,1648.90 738.45,1658.58 761.50,1671.90C784.55,1685.22 822.83,1713.90 835.10,1722.30" fill="none" stroke="#ed7d31" stroke-width="2.2" stroke-linejoin="round"/>
<circle cx="197.70" cy="1524.50" r="3.8" fill="#ed7d31"/><circle cx="247.90" cy="1576.50" r="3.8" fill="#ed7d31"/><circle cx="325.20" cy="1637.00" r="3.8" fill="#ed7d31"/><circle cx="404.30" cy="1663.70" r="3.8" fill="#ed7d31"/><circle cx="458.60" cy="1649.00" r="3.8" fill="#ed7d31"/><circle cx="484.30" cy="1641.40" r="3.8" fill="#ed7d31"/><circle cx="507.10" cy="1628.50" r="3.8" fill="#ed7d31"/><circle cx="536.70" cy="1621.00" r="3.8" fill="#ed7d31"/><circle cx="561.80" cy="1621.00" r="3.8" fill="#ed7d31"/><circle cx="614.30" cy="1623.90" r="3.8" fill="#ed7d31"/><circle cx="639.00" cy="1627.70" r="3.8" fill="#ed7d31"/><circle cx="664.20" cy="1632.90" r="3.8" fill="#ed7d31"/><circle cx="696.80" cy="1642.40" r="3.8" fill="#ed7d31"/><circle cx="761.50" cy="1671.90" r="3.8" fill="#ed7d31"/><circle cx="835.10" cy="1722.30" r="3.8" fill="#ed7d31"/>
<path d="M197.70,1530.00C206.07,1537.90 226.65,1559.40 247.90,1577.40C269.15,1595.40 299.13,1622.88 325.20,1638.00C351.27,1653.12 382.07,1665.62 404.30,1668.10C426.53,1670.58 445.27,1656.72 458.60,1652.90C471.93,1649.08 476.22,1648.68 484.30,1645.20C492.38,1641.72 498.37,1635.53 507.10,1632.00C515.83,1628.47 527.58,1625.42 536.70,1624.00C545.82,1622.58 548.87,1622.98 561.80,1623.50C574.73,1624.02 601.43,1625.85 614.30,1627.10C627.17,1628.35 630.68,1629.40 639.00,1631.00C647.32,1632.60 654.57,1634.07 664.20,1636.70C673.83,1639.33 680.58,1640.08 696.80,1646.80C713.02,1653.52 738.45,1663.50 761.50,1677.00C784.55,1690.50 822.83,1719.33 835.10,1727.80" fill="none" stroke="#7030a0" stroke-width="2.2" stroke-linejoin="round"/>
<circle cx="197.70" cy="1530.00" r="3.8" fill="#7030a0"/><circle cx="247.90" cy="1577.40" r="3.8" fill="#7030a0"/><circle cx="325.20" cy="1638.00" r="3.8" fill="#7030a0"/><circle cx="404.30" cy="1668.10" r="3.8" fill="#7030a0"/><circle cx="458.60" cy="1652.90" r="3.8" fill="#7030a0"/><circle cx="484.30" cy="1645.20" r="3.8" fill="#7030a0"/><circle cx="507.10" cy="1632.00" r="3.8" fill="#7030a0"/><circle cx="536.70" cy="1624.00" r="3.8" fill="#7030a0"/><circle cx="561.80" cy="1623.50" r="3.8" fill="#7030a0"/><circle cx="614.30" cy="1627.10" r="3.8" fill="#7030a0"/><circle cx="639.00" cy="1631.00" r="3.8" fill="#7030a0"/><circle cx="664.20" cy="1636.70" r="3.8" fill="#7030a0"/><circle cx="696.80" cy="1646.80" r="3.8" fill="#7030a0"/><circle cx="761.50" cy="1677.00" r="3.8" fill="#7030a0"/><circle cx="835.10" cy="1727.80" r="3.8" fill="#7030a0"/>
<path d="M197.70,1520.10C206.07,1529.17 226.65,1554.92 247.90,1574.50C269.15,1594.08 299.13,1621.85 325.20,1637.60C351.27,1653.35 382.07,1665.43 404.30,1669.00C426.53,1672.57 445.27,1662.48 458.60,1659.00C471.93,1655.52 476.22,1652.13 484.30,1648.10C492.38,1644.07 498.37,1638.45 507.10,1634.80C515.83,1631.15 527.58,1627.85 536.70,1626.20C545.82,1624.55 548.87,1624.43 561.80,1624.90C574.73,1625.37 601.43,1627.67 614.30,1629.00C627.17,1630.33 630.68,1631.15 639.00,1632.90C647.32,1634.65 654.57,1636.55 664.20,1639.50C673.83,1642.45 680.58,1643.67 696.80,1650.60C713.02,1657.53 738.45,1667.25 761.50,1681.10C784.55,1694.95 822.83,1724.93 835.10,1733.70" fill="none" stroke="#00b0f0" stroke-width="2.2" stroke-linejoin="round"/>
<circle cx="197.70" cy="1520.10" r="3.8" fill="#00b0f0"/><circle cx="247.90" cy="1574.50" r="3.8" fill="#00b0f0"/><circle cx="325.20" cy="1637.60" r="3.8" fill="#00b0f0"/><circle cx="404.30" cy="1669.00" r="3.8" fill="#00b0f0"/><circle cx="458.60" cy="1659.00" r="3.8" fill="#00b0f0"/><circle cx="484.30" cy="1648.10" r="3.8" fill="#00b0f0"/><circle cx="507.10" cy="1634.80" r="3.8" fill="#00b0f0"/><circle cx="536.70" cy="1626.20" r="3.8" fill="#00b0f0"/><circle cx="561.80" cy="1624.90" r="3.8" fill="#00b0f0"/><circle cx="614.30" cy="1629.00" r="3.8" fill="#00b0f0"/><circle cx="639.00" cy="1632.90" r="3.8" fill="#00b0f0"/><circle cx="664.20" cy="1639.50" r="3.8" fill="#00b0f0"/><circle cx="696.80" cy="1650.60" r="3.8" fill="#00b0f0"/><circle cx="761.50" cy="1681.10" r="3.8" fill="#00b0f0"/><circle cx="835.10" cy="1733.70" r="3.8" fill="#00b0f0"/>
<path d="M197.70,1526.60C206.07,1534.65 226.65,1557.57 247.90,1574.90C269.15,1592.23 299.13,1614.43 325.20,1630.60C351.27,1646.77 382.07,1666.45 404.30,1671.90C426.53,1677.35 445.27,1665.52 458.60,1663.30C471.93,1661.08 476.22,1661.62 484.30,1658.60C492.38,1655.58 498.37,1649.17 507.10,1645.20C515.83,1641.23 527.58,1636.85 536.70,1634.80C545.82,1632.75 548.87,1632.58 561.80,1632.90C574.73,1633.22 601.43,1635.35 614.30,1636.70C627.17,1638.05 630.68,1639.32 639.00,1641.00C647.32,1642.68 654.57,1643.97 664.20,1646.80C673.83,1649.63 680.58,1650.80 696.80,1658.00C713.02,1665.20 738.45,1675.98 761.50,1690.00C784.55,1704.02 822.83,1733.42 835.10,1742.10" fill="none" stroke="#00b050" stroke-width="2.2" stroke-linejoin="round"/>
<circle cx="197.70" cy="1526.60" r="3.8" fill="#00b050"/><circle cx="247.90" cy="1574.90" r="3.8" fill="#00b050"/><circle cx="325.20" cy="1630.60" r="3.8" fill="#00b050"/><circle cx="404.30" cy="1671.90" r="3.8" fill="#00b050"/><circle cx="458.60" cy="1663.30" r="3.8" fill="#00b050"/><circle cx="484.30" cy="1658.60" r="3.8" fill="#00b050"/><circle cx="507.10" cy="1645.20" r="3.8" fill="#00b050"/><circle cx="536.70" cy="1634.80" r="3.8" fill="#00b050"/><circle cx="561.80" cy="1632.90" r="3.8" fill="#00b050"/><circle cx="614.30" cy="1636.70" r="3.8" fill="#00b050"/><circle cx="639.00" cy="1641.00" r="3.8" fill="#00b050"/><circle cx="664.20" cy="1646.80" r="3.8" fill="#00b050"/><circle cx="696.80" cy="1658.00" r="3.8" fill="#00b050"/><circle cx="761.50" cy="1690.00" r="3.8" fill="#00b050"/><circle cx="835.10" cy="1742.10" r="3.8" fill="#00b050"/>
<rect x="193.25" y="1543.65" width="9.3" height="9.3" rx="0.8" fill="none" stroke="#000" stroke-width="2.4"/>
<rect x="244.75" y="1591.85" width="9.3" height="9.3" rx="0.8" fill="none" stroke="#000" stroke-width="2.4"/>
<rect x="298.65" y="1636.35" width="9.3" height="9.3" rx="0.8" fill="none" stroke="#000" stroke-width="2.4"/>
<rect x="323.05" y="1654.95" width="9.3" height="9.3" rx="0.8" fill="none" stroke="#000" stroke-width="2.4"/>
<rect x="350.15" y="1671.55" width="9.3" height="9.3" rx="0.8" fill="none" stroke="#000" stroke-width="2.4"/>
<rect x="375.25" y="1679.15" width="9.3" height="9.3" rx="0.8" fill="none" stroke="#000" stroke-width="2.4"/>
<rect x="400.55" y="1678.25" width="9.3" height="9.3" rx="0.8" fill="none" stroke="#000" stroke-width="2.4"/>
<rect x="429.55" y="1675.35" width="9.3" height="9.3" rx="0.8" fill="none" stroke="#000" stroke-width="2.4"/>
<rect x="454.45" y="1667.95" width="9.3" height="9.3" rx="0.8" fill="none" stroke="#000" stroke-width="2.4"/>
<rect x="479.25" y="1652.85" width="9.3" height="9.3" rx="0.8" fill="none" stroke="#000" stroke-width="2.4"/>
<rect x="504.05" y="1630.95" width="9.3" height="9.3" rx="0.8" fill="none" stroke="#000" stroke-width="2.4"/>
<rect x="531.05" y="1613.05" width="9.3" height="9.3" rx="0.8" fill="none" stroke="#000" stroke-width="2.4"/>
<rect x="557.75" y="1604.55" width="9.3" height="9.3" rx="0.8" fill="none" stroke="#000" stroke-width="2.4"/>
<rect x="609.55" y="1603.95" width="9.3" height="9.3" rx="0.8" fill="none" stroke="#000" stroke-width="2.4"/>
<rect x="634.95" y="1604.85" width="9.3" height="9.3" rx="0.8" fill="none" stroke="#000" stroke-width="2.4"/>
<rect x="660.15" y="1610.65" width="9.3" height="9.3" rx="0.8" fill="none" stroke="#000" stroke-width="2.4"/>
<rect x="692.85" y="1621.65" width="9.3" height="9.3" rx="0.8" fill="none" stroke="#000" stroke-width="2.4"/>
<path d="M613.4,12.1V330.5" stroke="#1a1a1a" stroke-width="1.1" stroke-dasharray="3.8 3"/>
<path d="M620.4,965.2V1273.9" stroke="#1a1a1a" stroke-width="1.1" stroke-dasharray="3.8 3"/>
<path d="M614.6,1455.3V1772.6" stroke="#1a1a1a" stroke-width="1.1" stroke-dasharray="3.8 3"/>
<rect x="388.7" y="330.5" width="393.00" height="235.10" fill="#fff" stroke="#333" stroke-width="1.3"/>
<path d="M416.1,350.20H446.0" stroke="#ff0000" stroke-width="2.2"/>
<circle cx="430.8" cy="349.60" r="3.8" fill="#ff0000"/>
<text x="448.40" y="357.20" font-size="23.6" text-anchor="start" >CFD_Efficiency_0% Pre Swirl</text>
<path d="M416.1,389.60H446.0" stroke="#ed7d31" stroke-width="2.2"/>
<circle cx="430.8" cy="389.00" r="3.8" fill="#ed7d31"/>
<text x="448.40" y="396.60" font-size="23.6" text-anchor="start" >CFD_Efficiency_5% Pre Swirl</text>
<path d="M416.1,429.00H446.0" stroke="#7030a0" stroke-width="2.2"/>
<circle cx="430.8" cy="428.40" r="3.8" fill="#7030a0"/>
<text x="448.40" y="436.00" font-size="23.6" text-anchor="start" >CFD_Efficiency_10% Pre Swirl</text>
<path d="M416.1,468.40H446.0" stroke="#00b0f0" stroke-width="2.2"/>
<circle cx="430.8" cy="467.80" r="3.8" fill="#00b0f0"/>
<text x="448.40" y="475.40" font-size="23.6" text-anchor="start" >CFD_Efficiency_15% Pre Swirl</text>
<path d="M416.1,507.80H446.0" stroke="#00b050" stroke-width="2.2"/>
<circle cx="430.8" cy="507.20" r="3.8" fill="#00b050"/>
<text x="448.40" y="514.80" font-size="23.6" text-anchor="start" >CFD_Efficiency_30% Pre Swirl</text>
<path d="M430.80,540.40L437.00,546.60L430.80,552.80L424.60,546.60Z" fill="none" stroke="#000" stroke-width="2.1"/>
<text x="449.50" y="554.20" font-size="23.6" text-anchor="start" >Exp_Efficiency</text>
<rect x="141.6" y="766.4" width="774.30" height="193.40" fill="#fff" stroke="#333" stroke-width="1.3"/>
<path d="M165.9,798.80H195.7" stroke="#ff0000" stroke-width="2.2"/>
<circle cx="179.8" cy="798.20" r="3.8" fill="#ff0000"/>
<text x="197.40" y="805.50" font-size="23.25" text-anchor="start" >CFD_Total Head_0% Pre Swirl</text>
<path d="M165.9,863.20H195.7" stroke="#7030a0" stroke-width="2.2"/>
<circle cx="179.8" cy="862.60" r="3.8" fill="#7030a0"/>
<text x="197.40" y="870.20" font-size="23.25" text-anchor="start" >CFD_Total Head_10% Pre Swirl</text>
<path d="M165.9,927.90H195.7" stroke="#00b050" stroke-width="2.2"/>
<circle cx="179.8" cy="927.30" r="3.8" fill="#00b050"/>
<text x="197.40" y="934.70" font-size="23.25" text-anchor="start" >CFD_Total Head_30% Pre Swirl</text>
<path d="M553.3,798.80H581.6" stroke="#ed7d31" stroke-width="2.2"/>
<circle cx="567.3" cy="798.20" r="3.8" fill="#ed7d31"/>
<text x="584.00" y="805.50" font-size="23.25" text-anchor="start" >CFD_Total Head_5% Pre Swirl</text>
<path d="M553.3,863.20H581.6" stroke="#00b0f0" stroke-width="2.2"/>
<circle cx="567.3" cy="862.60" r="3.8" fill="#00b0f0"/>
<text x="584.00" y="870.20" font-size="23.25" text-anchor="start" >CFD_Total Head_15% Pre Swirl</text>
<path d="M567.30,923.60L572.40,933.70L562.20,933.70Z" fill="none" stroke="#000" stroke-width="1.9" stroke-linejoin="miter"/>
<text x="584.40" y="934.70" font-size="23.25" text-anchor="start" >Exp_Total Head</text>
<rect x="139.3" y="1772.6" width="727.00" height="190.60" fill="#fff" stroke="#333" stroke-width="1.3"/>
<path d="M175.3,1804.60H203.9" stroke="#ff0000" stroke-width="2.2"/>
<circle cx="188.7" cy="1804.00" r="3.8" fill="#ff0000"/>
<text x="206.60" y="1810.90" font-size="23.0" text-anchor="start" >CFD_Power_0% Pre Swirl</text>
<path d="M175.3,1867.80H203.9" stroke="#7030a0" stroke-width="2.2"/>
<circle cx="188.7" cy="1867.20" r="3.8" fill="#7030a0"/>
<text x="206.60" y="1874.10" font-size="23.0" text-anchor="start" >CFD_Power_10% Pre Swirl</text>
<path d="M175.3,1931.00H203.9" stroke="#00b050" stroke-width="2.2"/>
<circle cx="188.7" cy="1930.40" r="3.8" fill="#00b050"/>
<text x="206.60" y="1937.30" font-size="23.0" text-anchor="start" >CFD_Power_30% Pre Swirl</text>
<path d="M538.5,1804.60H567.1" stroke="#ed7d31" stroke-width="2.2"/>
<circle cx="552.2" cy="1804.00" r="3.8" fill="#ed7d31"/>
<text x="569.70" y="1810.90" font-size="23.0" text-anchor="start" >CFD_Power_5% Pre Swirl</text>
<path d="M538.5,1867.80H567.1" stroke="#00b0f0" stroke-width="2.2"/>
<circle cx="552.2" cy="1867.20" r="3.8" fill="#00b0f0"/>
<text x="569.70" y="1874.10" font-size="23.0" text-anchor="start" >CFD_Power_15% Pre Swirl</text>
<rect x="548.35" y="1926.25" width="9.3" height="9.3" rx="0.8" fill="none" stroke="#000" stroke-width="2.4"/>
<text x="569.90" y="1937.30" font-size="23.0" text-anchor="start" >Exp_Power</text>
</svg></body></html>
